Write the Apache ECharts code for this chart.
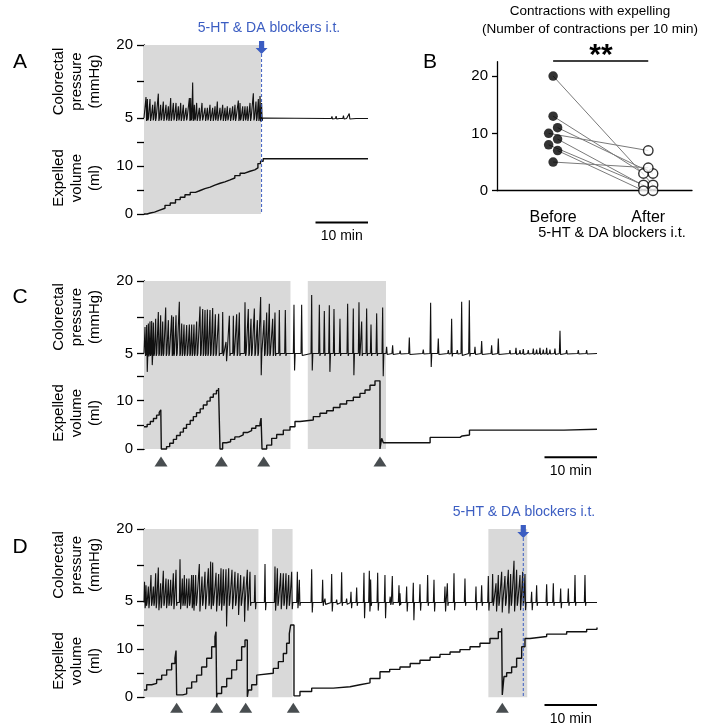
<!DOCTYPE html>
<html>
<head>
<meta charset="utf-8">
<script src="https://cdn.jsdelivr.net/npm/echarts@6/dist/echarts.min.js"></script>
<style>
  html, body { margin: 0; padding: 0; background: #fff; }
  #main { width: 709px; height: 726px; }
</style>
</head>
<body>
<div id="main"></div>
<script>
// ---- data (time in min, pressure in mmHg, volume in ml) ----
// pressure events: [time, peak, trough]
var spikesA = [[0.38,9.3,4.4],[0.64,8.9,4.5],[1.14,8.9,4.4],[1.65,7.7,4.5],[2.10,8.4,4.4],[2.73,10.0,4.4],[3.17,7.7,4.5],
  [3.68,8.4,4.4],[4.19,7.7,4.5],[4.64,7.4,4.4],[5.08,9.1,4.4],[5.59,8.1,4.5],[6.10,8.1,4.4],[6.54,7.4,4.5],[6.99,8.1,4.4],
  [7.49,7.7,4.4],[8.0,7.1,4.5],[8.64,9.1,4.4],[8.89,9.1,4.5],[9.27,12.3,4.4],[9.59,7.7,4.5],[10.03,8.1,4.4],[10.54,7.1,4.4],
  [11.05,8.1,4.5],[11.62,7.1,4.4],[12.07,7.1,4.5],[12.57,7.7,4.4],[13.08,7.1,4.4],[13.53,7.4,4.5],[13.97,8.4,4.4],[14.48,7.1,4.5],
  [14.99,7.7,4.4],[15.43,7.1,4.4],[15.87,7.4,4.5],[16.38,7.1,4.4],[16.89,7.4,4.5],[17.33,7.7,4.4],[17.97,8.6,4.4],[18.29,8.1,4.5],
  [18.8,7.4,4.4],[19.24,7.4,4.5],[19.68,7.4,4.4],[20.19,8.1,4.4],[20.83,10.1,4.5],[21.33,8.4,4.4],[21.78,8.9,4.4],[22.1,9.5,4.3],[22.4,8.1,4.4]];
var spikesA2 = [[35.0,5.3,4.8],[35.8,5.35,4.8],[36.6,5.4,4.8],[37.3,5.3,4.8],[38.0,5.5,4.8],[38.7,5.3,4.8],[39.1,5.9,4.8],[40.5,5.2,4.8],[41.5,5.25,4.8]];

var spikesC = [[0.19,10.5,4.5],[0.51,10.9,1.2],[0.83,11.2,4.4],[1.14,11.6,4.5],[1.46,11.7,2.6],[1.78,11.4,4.5],[2.22,12.2,4.5],
  [2.73,13.6,4.5],[3.17,12.9,4.5],[3.56,11.6,4.5],[4.13,14.5,4.5],[4.64,11.9,4.5],[5.27,12.9,4.5],[5.59,12.6,4.5],[6.10,12.9,4.5],
  [6.73,15.7,4.5],[7.18,11.2,4.5],[7.62,11.0,4.5],[8.13,10.9,4.5],[8.64,11.0,4.5],[9.08,11.0,4.5],[9.52,11.0,4.5],[10.03,11.6,4.5],
  [10.67,14.7,4.5],[11.18,14.2,4.5],[11.62,14.0,4.5],[12.07,14.1,4.5],[12.57,14.0,4.5],[13.08,14.4,4.5],[13.59,13.1,4.5],
  [14.22,13.2,4.5],[14.99,13.6,4.5],[15.62,7.4,3.4],[16.26,12.8,4.5],[17.02,12.8,4.5],[17.65,13.1,4.5],[18.16,13.5,4.5],
  [19.24,15.6,4.5],[19.87,14.2,4.5],[20.38,12.2,4.5],[21.02,14.3,4.5],[21.59,11.9,4.5],[22.22,16.7,0.5],[22.86,11.9,4.5],
  [23.37,13.5,4.5],[23.87,15.3,4.5],[24.51,12.2,4.5],[24.95,13.5,4.5],[25.78,14.0,4.5],[26.92,14.0,4.5],[28.57,15.1,1.5],
  [30.03,15.1,4.6],[31.94,17.1,1.5],[33.4,15.1,4.5],[34.35,13.8,4.5],[35.3,15.0,1.2],[36.19,14.2,4.5],[37.33,12.2,4.5],
  [38.79,15.3,4.5],[39.87,14.3,0.5],[40.95,15.6,4.5],[41.46,11.6,4.5],[42.41,14.3,4.5],[43.24,11.0,4.5],[44.32,13.3,4.5],
  [45.46,14.5,0.3],[46.22,6.4,4.8],[47.36,6.7,4.8],[48.8,5.6,4.9],[50.54,8.3,4.8],[53.2,5.8,4.9],[54.6,15.5,2.2],[56.06,8.1,4.8],
  [57.97,5.7,4.9],[58.6,12.2,4.4],[59.68,5.7,4.9],[60.51,15.7,4.6],[61.97,16.0,4.4],[63.05,6.4,4.8],[64.32,7.6,4.8],[66.22,6.7,4.8],
  [67.49,8.1,4.8],[69.71,5.7,4.9],[70.86,6.2,4.8],[71.62,5.7,4.9],[72.25,5.9,4.8],[73.2,5.7,4.9],[74.16,6.0,4.8],[74.79,5.8,4.9],
  [75.43,6.2,4.8],[76.06,5.8,4.9],[76.7,6.2,4.8],[77.33,5.8,4.9],[78.28,6.0,4.8],[79.24,9.7,4.8],[80.51,5.7,4.9],[82.73,5.7,4.9],[84.32,5.7,4.9]];

var spikesD = [[0.1,9.0,3.5],[0.38,8.3,4.0],[0.83,8.0,3.5],[1.33,10.4,4.0],[1.78,8.0,4.0],[2.22,10.8,3.5],[2.73,12.0,3.1],
  [3.17,8.7,3.5],[3.68,11.3,4.0],[4.19,9.7,3.5],[4.64,9.5,4.0],[5.08,9.4,4.0],[5.59,10.8,3.3],[6.1,11.5,4.0],[6.86,13.7,3.3],
  [7.3,9.7,4.0],[7.68,10.4,4.0],[8.13,9.7,3.5],[8.57,9.7,4.0],[9.08,10.4,3.5],[9.4,10.4,3.0],[9.84,10.4,4.0],[10.54,12.7,2.8],
  [11.05,10.1,4.0],[11.62,11.1,3.3],[12.26,11.8,4.0],[12.7,13.2,3.3],[13.08,13.0,4.0],[13.72,10.9,2.8],[14.22,10.6,4.0],
  [14.67,11.8,3.0],[15.11,11.6,4.0],[15.62,11.6,-0.3],[16.13,11.8,4.0],[16.76,11.5,3.3],[17.33,11.1,4.0],[17.91,10.8,2.1],
  [18.41,10.4,4.0],[19.05,10.1,0.7],[19.68,11.5,3.0],[20.19,11.1,4.0],[21.14,10.4,3.3],[23.05,12.7,3.1],[24.95,12.2,3.0],
  [25.4,11.8,4.0],[26.03,10.8,3.3],[26.54,10.8,4.0],[27.05,10.8,3.3],[27.56,10.4,4.0],[28.13,11.1,3.3],[29.21,11.1,3.5],
  [29.59,9.4,4.0],[31.94,11.6,2.6],[34.03,9.4,4.0],[34.48,5.5,4.3],[35.75,10.6,2.8],[36.7,5.3,4.3],[37.65,11.0,4.0],[38.6,5.5,4.3],
  [39.43,6.9,3.5],[40.51,7.8,4.0],[41.9,10.9,1.4],[42.92,11.3,2.8],[43.17,9.5,4.0],[44.51,10.9,3.0],[45.9,10.4,1.4],[46.9,5.9,4.2],
  [47.3,10.2,4.2],[48.57,8.3,4.0],[48.76,6.6,4.2],[50.03,8.0,2.8],[51.3,8.8,1.0],[52.57,8.5,3.0],[54.03,10.4,4.0],[55.24,9.4,2.8],
  [57.33,8.0,2.8],[57.78,8.7,4.0],[59.05,10.8,3.1],[61.14,9.7,4.0],[63.24,8.0,3.1],[64.32,8.3,4.0],[65.59,10.2,3.0],[66.41,10.6,4.0],
  [67.05,8.7,2.8],[67.49,10.4,4.0],[68.13,11.1,2.6],[68.76,10.2,4.0],[69.4,11.5,2.4],[69.84,10.6,4.0],[70.48,13.4,2.8],[70.98,11.5,4.0],
  [71.62,10.4,3.1],[72.13,11.1,4.0],[72.57,10.6,3.1],[73.84,6.9,3.1],[74.79,8.3,4.0],[76.7,8.5,4.0],[77.97,8.7,4.0],[79.37,7.6,3.5],
  [80.83,7.6,4.0],[82.1,10.4,4.0],[84.0,10.4,4.0]];

// expelled volume vertices (drawn as a staircase)
var volA = [[0,0],[0.6,0.2],[1.2,0.4],[2.0,0.8],[3.0,1.2],[4.0,1.8],[5.0,2.3],[6.0,3.0],[6.9,3.5],[7.8,4.0],[8.8,4.5],[9.8,4.9],
  [10.7,5.3],[11.6,5.6],[12.6,6.0],[13.5,6.4],[14.5,6.7],[15.4,7.1],[16.4,7.5],[17.3,8.0],[18.3,8.5],[19.2,8.9],[20.2,9.2],
  [21.1,9.6],[21.7,10.5],[22.2,11.0],[22.7,11.5],[42.67,11.5]];
var volC = [[0,4.6],[0.6,5.1],[1.2,5.7],[1.8,6.3],[2.4,7.0],[2.9,7.6],[3.2,8.1],[3.3,0],[3.7,0],[4.3,0.5],[4.9,1.2],[5.6,2.0],
  [6.2,2.8],[6.9,3.5],[7.5,4.3],[8.1,5.1],[8.8,5.9],[9.4,6.7],[10.0,7.5],[10.7,8.3],[11.3,9.1],[12.0,9.9],[12.6,10.7],[13.2,11.4],
  [13.8,12.1],[14.2,12.6],[14.48,0],[14.98,1.3],[15.7,1.5],[16.5,2.0],[17.3,2.5],[18.1,2.9],[18.9,3.4],[19.7,3.8],[20.5,4.3],
  [21.3,4.8],[22.1,5.3],[22.3,6.4],[22.48,0],[23.37,0.8],[24.32,2.2],[25.27,3.0],[26.54,3.9],[27.81,4.6],[28.76,5.7],[29.71,6.0],
  [32.25,6.7],[33.52,7.4],[34.79,7.9],[36.06,8.6],[37.33,9.3],[38.6,10.0],[39.87,10.7],[41.14,11.5],[42.1,12.2],[43.05,13.2],
  [44.0,14.1],[44.95,0],[45.27,2.2],[45.59,1.3],[54.5,2.4],[60.2,2.7],[60.6,2.9],[62.0,3.9],[80.0,4.1],[86.29,4.1]];
var volD = [[0,1.5],[0.51,2.6],[1.46,2.9],[2.41,3.7],[3.37,4.6],[4.32,5.7],[5.27,7.0],[5.9,8.1],[6.1,9.7],[6.22,0.5],[7.37,0.7],
  [8.13,1.9],[9.08,3.2],[10.03,4.6],[10.98,6.3],[11.94,8.1],[12.89,10.5],[13.52,12.6],[13.71,13.6],[13.84,0],[13.97,0.8],
  [14.79,2.2],[15.75,3.9],[16.7,5.7],[17.65,7.7],[18.6,10.5],[19.24,11.9],[19.68,0.1],[19.87,1.5],[20.51,2.6],[21.46,4.6],
  [21.78,5.0],[24.63,6.0],[25.59,7.4],[26.54,9.1],[27.17,11.2],[27.68,13.2],[27.94,15.0],[28.57,0.3],[29.71,1.2],[31.94,1.9],
  [36.06,2.2],[39.24,2.6],[41.14,3.0],[43.05,3.9],[44.95,5.3],[46.8,5.8],[48.76,6.3],[50.7,7.0],[52.57,7.7],[54.5,8.3],
  [56.38,8.9],[58.3,9.4],[60.19,9.9],[62.1,10.5],[64.0,11.2],[65.9,12.2],[67.49,13.6],[68.13,14.3],[68.25,0.5],[68.57,4.3],
  [69.08,5.1],[70.03,6.3],[70.98,8.1],[71.94,10.5],[72.57,12.2],[73.52,12.6],[76.7,13.1],[80.51,13.6],[84.32,14.1],[86.29,14.5]];

// shaded periods, expulsions (triangles) and drug time
var shadeA = [[0, 22.3]];
var shadeC = [[0, 27.9], [31.2, 46.1]];
var shadeD = [[0, 21.8], [24.4, 28.3], [65.6, 73.0]];
var expelC = [3.24, 14.73, 22.8, 44.95];
var expelD = [6.22, 13.84, 19.37, 28.44, 68.25];
var drugA = 22.4, drugD = 72.25;

// panel B: contractions per 10 min, paired
var groups = ['Before', 'After'];
var before = [20, 13, 11, 10, 9, 8, 7, 5];
var after = [1, 3, 3, 7, 0, 1, 0, 4];

// ---- styling ----
var FONT = '"Liberation Sans", Arial, Helvetica, sans-serif';
var SHADE = '#d9d9d9', BLUE = '#3b5dc2';
var XMAX_A = 42.67, XMAX_CD = 86.29;
var jitB = [0, 0, 1, -1, 1, -1, 1, 0], jitA = [1, -1, 1, 0, 1, -1, -1, 0];

function trace(spikes, base, t0, t1) {
  var pts = [[t0, base]];
  spikes.forEach(function (s) {
    pts.push([s[0] - 0.12, base], [s[0], s[1]], [s[0] + 0.11, s[2]], [s[0] + 0.22, base]);
  });
  pts.push([t1, base]);
  return pts;
}

var chart = echarts.init(document.getElementById('main'));

var grids = [
  { left: 144, top: 45, width: 224, height: 169 },
  { left: 144, top: 45, width: 224, height: 73 },
  { left: 144, top: 142, width: 224, height: 72 },
  { left: 144, top: 281, width: 453, height: 168 },
  { left: 144, top: 281, width: 453, height: 72.5 },
  { left: 144, top: 376.5, width: 453, height: 72.5 },
  { left: 144, top: 529, width: 453, height: 168.3 },
  { left: 144, top: 529, width: 453, height: 72 },
  { left: 144, top: 625, width: 453, height: 72.3 },
  { left: 497, top: 61.7, width: 195, height: 129 }
];

var axisLine = { show: true, lineStyle: { color: '#000', width: 1.3 } };
var xAxes = [], yAxes = [];
for (var i = 0; i < 9; i++) {
  xAxes.push({ gridIndex: i, type: 'value', min: 0, max: i < 3 ? XMAX_A : XMAX_CD, show: false });
  var kind = i % 3;
  if (kind === 0) {
    yAxes.push({ gridIndex: i, type: 'value', min: 0, max: 1, show: false });
  } else if (kind === 1) {
    yAxes.push({
      gridIndex: i, type: 'value', min: 5, max: 20, axisLine: axisLine,
      axisTick: { show: true, length: 7, customValues: [5, 12.5, 20], lineStyle: { color: '#000', width: 1.3 } },
      axisLabel: { customValues: [5, 20], fontSize: 15, color: '#000', fontFamily: FONT, margin: 11 },
      splitLine: { show: false }
    });
  } else {
    yAxes.push({
      gridIndex: i, type: 'value', min: 0, max: 15, axisLine: axisLine,
      axisTick: { show: true, length: 7, customValues: [0, 5, 10, 15], lineStyle: { color: '#000', width: 1.3 } },
      axisLabel: { customValues: [0, 10], fontSize: 15, color: '#000', fontFamily: FONT, margin: 11 },
      splitLine: { show: false }
    });
  }
}
xAxes.push({
  gridIndex: 9, type: 'value', min: 0.41, max: 2.46, axisLine: axisLine,
  axisTick: { show: false }, splitLine: { show: false },
  axisLabel: { customValues: [1, 2], formatter: function (v) { return groups[Math.round(v) - 1]; },
    fontSize: 16, color: '#000', fontFamily: FONT, margin: 19 }
});
yAxes.push({
  gridIndex: 9, type: 'value', min: 0, max: 22.5, axisLine: axisLine,
  axisTick: { show: true, length: 5, customValues: [0, 10, 20], lineStyle: { color: '#000', width: 1.3 } },
  axisLabel: { customValues: [0, 10, 20], fontSize: 15, color: '#000', fontFamily: FONT, margin: 9 },
  splitLine: { show: false }
});

function bgSeries(idx, shades) {
  return {
    type: 'line', xAxisIndex: idx, yAxisIndex: idx, data: [], z: -1, silent: true,
    markArea: { silent: true, itemStyle: { color: SHADE, opacity: 1 },
      data: shades.map(function (r) { return [{ xAxis: r[0] }, { xAxis: r[1] }]; }) }
  };
}
function pressSeries(idx, data) {
  return { type: 'line', xAxisIndex: idx, yAxisIndex: idx, data: data, symbol: 'none', clip: false,
    lineStyle: { color: '#111', width: 1.1 }, z: 3 };
}
function volSeries(idx, data) {
  return { type: 'line', xAxisIndex: idx, yAxisIndex: idx, data: data, symbol: 'none', step: 'end',
    clip: false, lineStyle: { color: '#111', width: 1.4 }, z: 3 };
}
function triSeries(idx, times, off) {
  return { type: 'scatter', xAxisIndex: idx, yAxisIndex: idx, clip: false, symbol: 'triangle',
    symbolSize: [13, 10], symbolOffset: [0, off], itemStyle: { color: '#1a2024' },
    data: times.map(function (t) { return [t, 0]; }) };
}

var series = [
  bgSeries(0, shadeA),
  pressSeries(1, trace(spikesA, 5.0, 0, 22.5).concat(trace(spikesA2, 4.9, 22.5, XMAX_A))),
  volSeries(2, volA),
  bgSeries(3, shadeC),
  pressSeries(4, trace(spikesC, 5.0, 0, XMAX_CD)),
  volSeries(5, volC),
  triSeries(5, expelC, 12.5),
  bgSeries(6, shadeD),
  pressSeries(7, trace(spikesD, 4.7, 0, XMAX_CD)),
  volSeries(8, volD),
  triSeries(8, expelD, 10.5)
];

before.forEach(function (b, k) {
  series.push({ type: 'line', xAxisIndex: 9, yAxisIndex: 9, symbol: 'none', z: 2,
    lineStyle: { color: '#7a7a7a', width: 1 },
    data: [[1 + jitB[k] * 0.047, b], [2 + jitA[k] * 0.05, after[k]]] });
});
series.push({ type: 'scatter', xAxisIndex: 9, yAxisIndex: 9, symbolSize: 9.5, z: 4,
  itemStyle: { color: '#000' },
  data: before.map(function (b, k) { return [1 + jitB[k] * 0.047, b]; }) });
series.push({ type: 'scatter', xAxisIndex: 9, yAxisIndex: 9, symbolSize: 9.5, z: 4,
  itemStyle: { color: '#fff', borderColor: '#000', borderWidth: 1.4 },
  data: after.map(function (a, k) { return [2 + jitA[k] * 0.05, a]; }) });

function txt(x, y, s, size, extra) {
  var st = { text: s, x: 0, y: 0, fill: '#000', font: size + 'px ' + FONT, align: 'center', verticalAlign: 'middle' };
  for (var k in (extra || {})) st[k] = extra[k];
  return { type: 'text', x: x, y: y, style: st };
}
function vtxt(x, y, s) {
  return { type: 'text', x: x, y: y, rotation: Math.PI / 2,
    style: { text: s, fill: '#000', font: '15px ' + FONT, align: 'center', verticalAlign: 'middle', lineHeight: 18 } };
}

var staticGraphics = [
  txt(20, 62, 'A', 21), txt(430, 62, 'B', 21), txt(20, 297, 'C', 21), txt(20, 547, 'D', 21),
  vtxt(77, 81.5, 'Colorectal\npressure\n(mmHg)'), vtxt(77, 178, 'Expelled\nvolume\n(ml)'),
  vtxt(77, 317, 'Colorectal\npressure\n(mmHg)'), vtxt(77, 413, 'Expelled\nvolume\n(ml)'),
  vtxt(77, 565, 'Colorectal\npressure\n(mmHg)'), vtxt(77, 661, 'Expelled\nvolume\n(ml)'),
  txt(590, 11, 'Contractions with expelling', 13.5),
  txt(590, 29, '(Number of contractions per 10 min)', 13.5),
  txt(601, 56, '**', 30, { font: 'bold 30px ' + FONT }),
  txt(612, 233, '5-HT & DA blockers i.t.', 14.5),
  txt(269, 28, '5-HT & DA blockers i.t.', 14, { fill: BLUE }),
  txt(524, 512, '5-HT & DA blockers i.t.', 14, { fill: BLUE })
];

chart.setOption({
  animation: false,
  backgroundColor: '#fff',
  textStyle: { fontFamily: FONT },
  grid: grids,
  xAxis: xAxes,
  yAxis: yAxes,
  series: series,
  graphic: staticGraphics
});

// scale bars, drug arrows, dashed drug lines and significance bar placed through the axes
function px(g, v) { return chart.convertToPixel({ gridIndex: g }, v); }
function scaleBar(g, xmax, dy) {
  var a = px(g, [xmax - 10, 0]), b = px(g, [xmax, 0]);
  return [
    { type: 'line', shape: { x1: a[0], y1: a[1] + dy, x2: b[0], y2: b[1] + dy }, style: { stroke: '#000', lineWidth: 2 } },
    txt((a[0] + b[0]) / 2, a[1] + dy + 14, '10 min', 14)
  ];
}
function drugMark(g, t) {
  var top = px(g, [t, 1]), bot = px(g, [t, 0]), x = top[0], tip = top[1] + 9;
  return [
    { type: 'line', z: 9, shape: { x1: x, y1: tip, x2: x, y2: bot[1] },
      style: { stroke: BLUE, lineWidth: 1, lineDash: [3, 2] } },
    { type: 'polygon', z: 10, shape: { points: [[x - 2.6, tip - 13], [x + 2.6, tip - 13], [x + 2.6, tip - 6],
      [x + 6, tip - 6], [x, tip], [x - 6, tip - 6], [x - 2.6, tip - 6]] }, style: { fill: BLUE } }
  ];
}
var p1 = px(9, [1, 0]), p2 = px(9, [2, 0]);
var dyn = staticGraphics.concat(scaleBar(2, XMAX_A, 8.5), scaleBar(5, XMAX_CD, 8.3), scaleBar(8, XMAX_CD, 7.7),
  drugMark(0, drugA), drugMark(6, drugD), [
  { type: 'line', shape: { x1: p1[0], y1: 61, x2: p2[0], y2: 61 }, style: { stroke: '#000', lineWidth: 1.5 } }
]);
chart.setOption({ graphic: dyn }, { replaceMerge: ['graphic'] });
</script>
</body>
</html>
